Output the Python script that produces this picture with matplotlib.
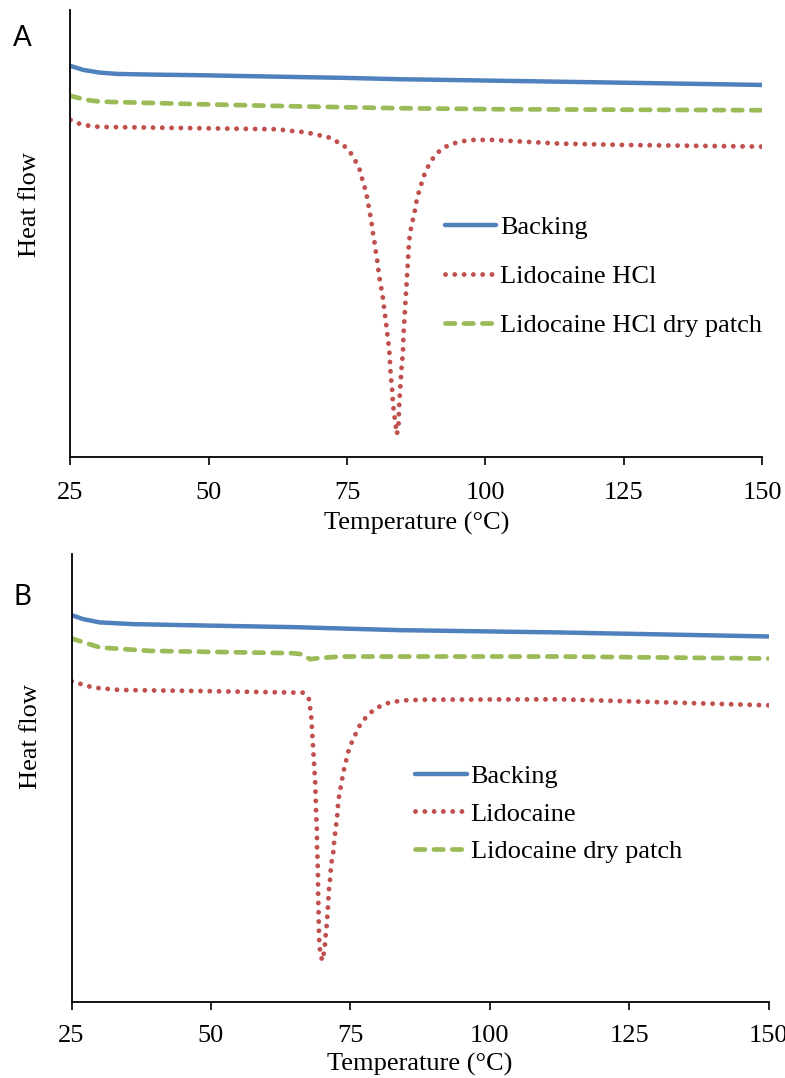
import matplotlib
matplotlib.use("Agg")
import matplotlib.pyplot as plt

# ---- Panel A: lidocaine HCl ----
a_backing_t = [25, 27.3, 30.3, 33.4, 40, 48.4, 60, 75, 84.5, 100, 125, 150]
a_backing_hf = [391, 387, 384.3, 383, 382.3, 381.7, 380.5, 379, 377.7, 376.4, 374.2, 372]

a_drug_t = [25, 26.7, 28.5, 30.3, 48.4, 62.3, 65.0, 66.5, 68.3, 71.6, 74.3, 75.5, 76.4,
            77.2, 77.6, 78.1, 78.5, 78.8, 79.1, 79.4, 79.6, 79.9, 80.1, 80.4, 80.6,
            80.8, 81.1, 81.4, 81.6, 81.8, 82.0, 82.2, 82.4, 82.6, 82.8, 82.9, 83.1,
            83.3, 83.5, 83.7, 84.0,
            84.3, 84.4, 84.6, 84.8, 85.1, 85.2, 85.4, 85.6, 85.8, 86.0, 86.2, 86.4,
            86.7, 87.1, 87.4, 87.7, 88.2, 88.7, 89.2, 90.0, 90.8, 91.9, 93.1, 94.6,
            96.2, 97.8, 101.3, 113.5, 125, 150]
a_drug_hf = [337, 333, 331, 330, 328.7, 327.7, 326, 325.3, 323.7, 319.7, 312, 305.3, 297,
             288.7, 280.3, 271.3, 262.7, 253.7, 244.3, 235.3, 226.3, 217, 208, 198.7, 189.7,
             180.3, 171.3, 162, 153, 144.3, 135.3, 126.3, 117, 108, 89.7, 80, 71.3,
             53, 43.7, 34.7, 22.7,
             32, 50, 68, 86, 105, 123, 141, 160, 178, 196, 215, 224,
             233, 242, 251, 260, 269, 278, 286, 294, 301, 307, 311, 314,
             316, 317, 317, 313.3, 312, 310.3]

a_patch_t = [25, 27.9, 30.3, 48.4, 66.5, 84.5, 102.6, 125, 150]
a_patch_hf = [361, 357, 355.3, 352.7, 350.5, 348.7, 347.7, 347.2, 346.7]

# ---- Panel B: lidocaine base ----
b_backing_t = [25, 27.1, 30.1, 36.1, 50, 65, 83.9, 112.6, 150]
b_backing_hf = [386, 382, 378.7, 377, 375.5, 374, 371, 368.7, 364.7]

b_drug_t = [25, 28.9, 33.7, 48.0, 65.1, 66.6, 67.6, 67.8, 68.0, 68.1, 68.2, 68.3,
            68.4, 68.5, 68.6, 68.7, 68.75, 68.8, 68.85, 68.9, 69.0, 69.03, 69.1,
            69.2, 69.22, 69.3, 69.33, 69.4, 69.5, 69.7, 70.0,
            70.3, 70.5, 70.6, 70.8, 70.9, 71.0, 71.1, 71.2, 71.4, 71.5, 71.7,
            72.0, 72.1, 72.3, 72.5, 72.7, 72.8, 73.0, 73.3, 73.6, 73.9, 74.3, 74.7,
            75.3, 76.0, 76.7, 77.7, 78.9, 80.3, 81.8, 83.4, 85.0, 86.7, 88.3, 91.7,
            112.6, 125, 150]
b_drug_hf = [320, 313.7, 311.3, 310.3, 308.7, 308.7, 302, 293, 284, 274.7, 265.3, 256.3,
             247.3, 238, 228.7, 219.7, 210.3, 201.3, 192, 183, 173.7, 155.3, 146,
             127.7, 109.3, 91.3, 82, 63.7, 54.7, 46, 41.3,
             50.3, 59.7, 68.7, 78, 87, 96.3, 105.3, 114.7, 123.7, 133, 142,
             151.3, 160.3, 169.7, 178.7, 188, 197, 206, 215.3, 224.3, 233, 242, 251,
             259.7, 268, 276, 283.3, 290, 295, 298.3, 300, 301, 301.3, 301.7, 301.7,
             302, 300, 296]

b_patch_t = [25, 30.1, 39.1, 57.0, 64.7, 66.3, 67.8, 69.2, 73.2, 92.9, 112.6, 150]
b_patch_hf = [362.7, 353.7, 350.3, 348.7, 348, 347, 342, 343, 344.7, 344.7, 344.7, 342.7]

x_ticks = [25, 50, 75, 100, 125, 150]

BLUE = "#4F81BD"
RED = "#C0504D"
GREEN = "#9BBB59"
SERIF = "Liberation Serif"
FS = 19

fig = plt.figure(figsize=(7.85, 10.78), dpi=100)

panels = [
    dict(rect=[0.0898, 0.5761, 0.8809, 0.4147], letter="A", letter_y=0.937,
         series=[(a_backing_t, a_backing_hf, "Backing"),
                 (a_drug_t, a_drug_hf, "Lidocaine HCl"),
                 (a_patch_t, a_patch_hf, "Lidocaine HCl dry patch")],
         leg_anchor=(0.541, 0.539), leg_space=0.96, tick_pad=12, xlabel_pad=6,
         ylabel_xy=(-0.042, 0.564)),
    dict(rect=[0.0911, 0.0705, 0.8879, 0.4156], letter="B", letter_y=0.904,
         series=[(b_backing_t, b_backing_hf, "Backing"),
                 (b_drug_t, b_drug_hf, "Lidocaine"),
                 (b_patch_t, b_patch_hf, "Lidocaine dry patch")],
         leg_anchor=(0.493, 0.5295), leg_space=0.53, tick_pad=10.5, xlabel_pad=4,
         ylabel_xy=(-0.043, 0.592)),
]

for p in panels:
    ax = fig.add_axes(p["rect"])
    (t1, h1, l1), (t2, h2, l2), (t3, h3, l3) = p["series"]
    ax.plot(t1, h1, color=BLUE, lw=3.2, solid_capstyle="round",
            solid_joinstyle="round", label=l1)
    ax.plot(t2, h2, color=RED, lw=3.5, dashes=(0.01, 1.9),
            dash_capstyle="round", label=l2)
    ax.plot(t3, h3, color=GREEN, lw=3.4, dashes=(2.0, 1.9),
            dash_capstyle="round", label=l3)

    ax.set_xlim(25, 150)
    ax.set_ylim(0, 447)
    ax.set_xticks(x_ticks)
    ax.set_xticklabels([str(v) for v in x_ticks], family=SERIF, fontsize=FS)
    ax.set_yticks([])
    ax.tick_params(axis="x", direction="out", length=6, width=1.2, pad=p["tick_pad"])
    for side in ("top", "right"):
        ax.spines[side].set_visible(False)
    for side in ("left", "bottom"):
        ax.spines[side].set_linewidth(1.3)
    ax.set_xlabel("Temperature (\u00b0C)", family=SERIF, fontsize=FS,
                  labelpad=p["xlabel_pad"])
    ax.set_ylabel("Heat flow", family=SERIF, fontsize=FS)
    ax.yaxis.set_label_coords(*p["ylabel_xy"])

    ax.text(-0.083, p["letter_y"], p["letter"], transform=ax.transAxes, family="Lato",
            fontsize=20, ha="left", va="center")

    ax.legend(loc="upper left", bbox_to_anchor=p["leg_anchor"], frameon=False,
              prop={"family": SERIF, "size": FS}, handlelength=1.95,
              handletextpad=0.15, borderpad=0, borderaxespad=0,
              labelspacing=p["leg_space"])

fig.savefig("out.png", dpi=100)
